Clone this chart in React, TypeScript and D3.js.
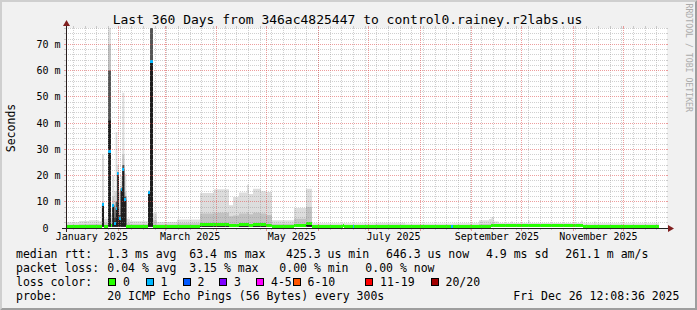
import React from 'react';
import * as d3 from 'd3';

// ---------------- data ----------------
const periodStart = [
  '2024-12-31T12:00', '2025-01-08T07:00', '2025-01-14T07:00', '2025-01-20T07:00', '2025-01-22T02:00',
  '2025-01-23T07:00', '2025-01-25T17:00', '2025-01-27T12:00', '2025-01-28T07:00', '2025-01-29T12:00',
  '2025-01-30T07:00', '2025-01-31T07:00', '2025-02-01T07:00', '2025-02-02T07:00', '2025-02-03T07:00',
  '2025-02-04T12:00', '2025-02-05T17:00', '2025-02-07T22:00', '2025-02-18T17:00', '2025-02-19T22:00',
  '2025-02-21T17:00', '2025-02-24T02:00', '2025-03-08T02:00', '2025-03-21T22:00', '2025-03-30T07:00',
  '2025-04-08T07:00', '2025-04-10T17:00', '2025-04-14T07:00', '2025-04-19T02:00', '2025-04-20T07:00',
  '2025-04-22T17:00', '2025-04-27T12:00', '2025-04-30T12:00', '2025-05-04T02:00', '2025-05-17T07:00',
  '2025-05-24T12:00', '2025-05-28T02:00', '2025-06-15T10:00', '2025-06-16T07:00', '2025-06-21T10:00',
  '2025-06-22T07:00', '2025-07-05T00:00', '2025-07-23T00:00', '2025-08-19T12:00', '2025-08-20T17:00',
  '2025-09-05T07:00', '2025-09-11T07:00', '2025-09-12T19:00', '2025-09-14T07:00', '2025-09-17T00:00',
  '2025-09-24T12:00', '2025-09-25T12:00', '2025-10-04T17:00', '2025-10-05T17:00', '2025-11-05T12:00',
  '2025-11-06T12:00', '2025-11-13T07:00', '2025-11-14T07:00',
];
const dataEnd = '2025-12-22T07:00';

// median rtt (ms)
const medianMs = [
  0.7, 0.7, 0.7, 0.7, 9.0,
  0.75, 29.3, 0.9, 8.5, 1.8,
  7.4, 20.7, 3.6, 14.6, 22.4,
  10.8, 0.7, 0.7, 13.4, 63.4,
  0.7, 0.7, 0.75, 1.2, 1.2,
  1.0, 1.1, 1.2, 1.2, 1.1,
  1.2, 1.2, 1.1, 0.7, 0.8,
  1.7, 0.65, 1.0, 0.65, 0.65,
  0.65, 0.65, 0.65, 0.65, 0.65,
  0.7, 0.7, 0.8, 0.85, 0.85,
  0.9, 0.85, 0.9, 0.85, 0.8,
  0.7, 0.7, 0.7,
];
// lost pings out of 20
const lossCount = [
  0, 0, 0, 0, 1,
  0, 1, 0, 1, 1,
  1, 1, 1, 1, 1,
  1, 0, 0, 1, 1,
  0, 0, 0, 0, 0,
  0, 0, 0, 0, 0,
  0, 0, 0, 0, 0,
  0, 0, 0, 0, 1,
  0, 0, 0, 1, 0,
  0, 0, 0, 0, 0,
  0, 0, 0, 0, 0,
  0, 0, 0,
];
// smoke: fastest ping, slowest ping and inner quantile tops (ms)
const smokeMinMs = [
  0.45, 0.45, 0.45, 0.45, 0.5,
  0.45, 0.5, 0.45, 0.5, 0.5,
  0.5, 0.5, 0.5, 0.5, 0.5,
  0.5, 0.45, 0.45, 0.5, 0.5,
  0.45, 0.45, 0.45, 0.45, 0.45,
  0.45, 0.45, 0.45, 0.45, 0.45,
  0.45, 0.45, 0.45, 0.45, 0.45,
  0.45, 0.45, 0.45, 0.45, 0.45,
  0.45, 0.45, 0.45, 0.45, 0.45,
  0.45, 0.45, 0.45, 0.45, 0.45,
  0.45, 0.45, 0.45, 0.45, 0.45,
  0.45, 0.45, 0.45,
];
const smokeMaxMs = [
  2.2, 2.7, 3.0, 2.6, 28,
  3.5, 85, 5.0, 20, 14,
  36.6, 24, 14, 20, 51.5,
  20.7, 3.5, 2.6, 14.5, 85,
  5.6, 2.3, 3.2, 13.3, 14.8,
  8.7, 11.8, 13.5, 16.5, 13.0,
  15.0, 14.0, 13.7, 3.0, 7.6,
  15.0, 1.8, 1.9, 1.8, 1.8,
  1.8, 2.0, 1.7, 1.7, 1.8,
  3.0, 3.4, 4.2, 2.5, 1.9,
  2.5, 1.9, 2.9, 1.9, 2.9,
  1.8, 2.5, 1.8,
];
const smokeUpperMs = [
  1.2, 1.4, 1.5, 1.4, 10,
  2.0, 70, 3.0, 12, 6,
  14, 21.5, 8, 16, 28,
  14, 1.8, 1.4, 13.8, 84,
  3.0, 1.3, 1.8, 5.5, 5.8,
  4.5, 4.8, 5.5, 6.0, 5.2,
  5.8, 5.5, 5.0, 1.6, 3.5,
  8.0, 1.1, 1.3, 1.1, 1.1,
  1.1, 1.2, 1.1, 1.1, 1.1,
  1.5, 1.6, 1.8, 1.3, 1.2,
  1.4, 1.2, 1.5, 1.2, 1.5,
  1.1, 1.3, 1.1,
];
const smokeInnerMs = [
  0.75, 0.75, 0.8, 0.8, 9.2,
  1.0, 60, 1.2, 9, 4,
  10, 21, 5, 15, 24,
  12, 0.8, 0.8, 13.6, 80,
  0.8, 0.8, 0.85, 1.3, 1.3,
  1.1, 1.2, 1.3, 1.3, 1.2,
  1.3, 1.3, 1.2, 0.8, 0.9,
  1.8, 0.7, 1.05, 0.7, 0.7,
  0.7, 0.7, 0.7, 0.7, 0.7,
  0.75, 0.75, 0.85, 0.9, 0.9,
  0.95, 0.9, 0.95, 0.9, 0.85,
  0.75, 0.75, 0.75,
];
const smokeCoreMs = [
  0.7, 0.7, 0.7, 0.7, 9.0,
  0.8, 41, 1.0, 8.5, 2.5,
  7.5, 20.7, 3.8, 14.6, 22.4,
  10.8, 0.7, 0.7, 13.4, 63.4,
  0.7, 0.7, 0.75, 1.2, 1.2,
  1.0, 1.1, 1.2, 1.2, 1.1,
  1.2, 1.2, 1.1, 0.7, 0.8,
  1.7, 0.65, 1.0, 0.65, 0.65,
  0.65, 0.65, 0.65, 0.65, 0.65,
  0.7, 0.7, 0.8, 0.85, 0.85,
  0.9, 0.85, 0.9, 0.85, 0.8,
  0.7, 0.7, 0.7,
];

const yTicks = [0, 10, 20, 30, 40, 50, 60, 70];
const yTickLabels = ['0', '10 m', '20 m', '30 m', '40 m', '50 m', '60 m', '70 m'];
const xLabelMonths = ['2025-01-01T00:00', '2025-03-01T00:00', '2025-05-01T00:00', '2025-07-01T00:00', '2025-09-01T00:00', '2025-11-01T00:00'];
const xLabels = ['January 2025', 'March 2025', 'May 2025', 'July 2025', 'September 2025', 'November 2025'];

const lossLabels = ['0', '1', '2', '3', '4-5', '6-10', '11-19', '20/20'];
const lossColors = ['#26ff00', '#00b8ff', '#0059ff', '#7e00ff', '#ff00ff', '#ff5500', '#ff0000', '#a10000'];
const lossUpper = [0, 1, 2, 3, 5, 10, 19, 20];

const title = 'Last 360 Days from 346ac4825447 to control0.rainey.r2labs.us';
const legendRtt = ['median rtt:', '1.3 ms avg', '63.4 ms max', '425.3 us min', '646.3 us now', '4.9 ms sd', '261.1 m am/s'];
const legendLoss = ['packet loss:', '0.04 % avg', '3.15 % max', '0.00 % min', '0.00 % now'];
const legendProbe = ['probe:', '20 ICMP Echo Pings (56 Bytes) every 300s', 'Fri Dec 26 12:08:36 2025'];

// ---------------- layout ----------------
const W = 697;
const H = 310;
const X0 = 66;
const X1 = 666;
const Y0 = 228;
const Y1 = 28;
const Y_MAX = 76.2;
const START = new Date(2024, 11, 31, 12, 8, 36);
const END = new Date(2025, 11, 26, 12, 8, 36);
const MONO = "'DejaVu Sans Mono', monospace";

const rttX = [16, 107.3, 189.3, 286, 386, 486, 565.3];
const lossX = [16, 107.3, 189.3, 279.3, 365.3];
const probeX = [16, 107.3, 513.3];
const boxX = [108, 145.5, 182.5, 219, 256, 292.5, 365, 430.5];

const smokeColors = ['#dddddd', '#c2c2c2', '#555555', '#1e1e1e'];

function lossIndex(n: number) {
  for (let i = 0; i < lossUpper.length; i++) if (n <= lossUpper[i]) return i;
  return lossUpper.length - 1;
}

export default function App() {
  const x = d3.scaleTime().domain([START, END]).range([X0, X1]);
  const y = d3.scaleLinear().domain([0, Y_MAX]).range([Y0, Y1]);
  const px = (v: number) => Math.floor(v) + 0.5;

  const starts = periodStart.map((s) => new Date(s));
  const edges = [...starts, new Date(dataEnd)];
  const pts = edges.map((t, k) => ({ t, i: Math.min(k, starts.length - 1) }));

  const band = (top: number[]) =>
    d3
      .area<{ t: Date; i: number }>()
      .x((d) => x(d.t))
      .y0((d) => y(smokeMinMs[d.i]))
      .y1((d) => y(top[d.i]))
      .curve(d3.curveStepAfter)(pts) || '';

  const bands = [smokeMaxMs, smokeUpperMs, smokeInnerMs, smokeCoreMs];

  const weeks = d3.timeSunday.range(START, END);
  const months = d3.timeMonth.range(START, END);
  const minorY = d3.range(2, Y_MAX, 2).filter((v) => v % 10 !== 0);
  const gridCol = 'rgb(143,143,143)';
  const gridOp = 0.42;
  const mgridCol = 'rgb(222,79,79)';
  const mgridOp = 0.55;

  return (
    <svg
      width={W}
      height={H}
      style={{ position: 'absolute', left: 0, top: 0, display: 'block' }}
      fontFamily={MONO}
    >
      <defs>
        <clipPath id="plot">
          <rect x={X0} y={Y1} width={X1 - X0 + 1} height={Y0 - Y1} />
        </clipPath>
      </defs>
      <rect x={0} y={0} width={W} height={H} fill="#f1f1f1" />
      <polygon points={`0,${H} 2,${H - 2} 2,2 ${W - 2},2 ${W},0 0,0`} fill="#cfcfcf" />
      <polygon points={`2,${H - 2} ${W - 2},${H - 2} ${W - 2},2 ${W},0 ${W},${H} 0,${H}`} fill="#9e9e9e" />
      <rect x={X0} y={Y1} width={X1 - X0 + 1} height={Y0 - Y1} fill="#ffffff" />

      <g clipPath="url(#plot)">
        {bands.map((b, k) => (
          <path key={k} d={band(b)} fill={smokeColors[k]} />
        ))}
        {starts.map((s, i) => {
          const a = x(s);
          const b = x(edges[i + 1]);
          const yc = y(medianMs[i]);
          return (
            <rect
              key={i}
              x={a}
              y={yc - 1.5}
              width={b - a}
              height={3}
              fill={lossColors[lossIndex(lossCount[i])]}
              shapeRendering="crispEdges"
            />
          );
        })}
      </g>

      {/* grid */}
      <g strokeWidth={1} shapeRendering="crispEdges" fill="none">
        {minorY.map((v) => (
          <g key={'hy' + v} stroke={gridCol} strokeOpacity={gridOp}>
            <line x1={X0 - 2} x2={X0} y1={px(y(v))} y2={px(y(v))} />
            <line x1={X1} x2={X1 + 2} y1={px(y(v))} y2={px(y(v))} />
            <line x1={X0} x2={X1} y1={px(y(v))} y2={px(y(v))} strokeDasharray="1 1" />
          </g>
        ))}
        {weeks.map((w) => (
          <g key={'wx' + +w} stroke={gridCol} strokeOpacity={gridOp}>
            <line x1={px(x(w))} x2={px(x(w))} y1={Y1 - 2} y2={Y1} />
            <line x1={px(x(w))} x2={px(x(w))} y1={Y0} y2={Y0 + 2} />
            <line x1={px(x(w))} x2={px(x(w))} y1={Y1} y2={Y0} strokeDasharray="1 1" />
          </g>
        ))}
        {yTicks.slice(1).map((v) => (
          <g key={'my' + v} stroke={mgridCol} strokeOpacity={mgridOp}>
            <line x1={X0 - 2} x2={X0} y1={px(y(v))} y2={px(y(v))} />
            <line x1={X1} x2={X1 + 2} y1={px(y(v))} y2={px(y(v))} />
            <line x1={X0} x2={X1} y1={px(y(v))} y2={px(y(v))} strokeDasharray="1 1" />
          </g>
        ))}
        {months.map((m) => (
          <g key={'mx' + +m} stroke={mgridCol} strokeOpacity={mgridOp}>
            <line x1={px(x(m))} x2={px(x(m))} y1={Y1 - 2} y2={Y1} />
            <line x1={px(x(m))} x2={px(x(m))} y1={Y0} y2={Y0 + 3} />
            <line x1={px(x(m))} x2={px(x(m))} y1={Y1} y2={Y0} strokeDasharray="1 1" />
          </g>
        ))}
      </g>

      {/* axes */}
      <g shapeRendering="crispEdges">
        <line x1={X0 - 4} x2={X1 + 4} y1={Y0 + 0.5} y2={Y0 + 0.5} stroke="#1f1f1f" />
        <line x1={X0 + 0.5} x2={X0 + 0.5} y1={Y0 + 4} y2={Y1 - 4} stroke="#2a1f1f" />
      </g>
      <polygon
        points={`${X1 + 2},${Y0 + 0.5 - 3.5} ${X1 + 2},${Y0 + 0.5 + 3.5} ${X1 + 8},${Y0 + 0.5}`}
        fill="#801f1f"
      />
      <polygon
        points={`${X0 + 0.5 - 3.5},${Y1 - 2} ${X0 + 0.5 + 3.5},${Y1 - 2} ${X0 + 0.5},${Y1 - 8}`}
        fill="#801f1f"
      />

      {/* y labels */}
      {yTicks.map((v, i) => (
        <text
          key={'yl' + v}
          x={60.5}
          y={px(y(v)) + 3.3}
          fontSize={10}
          textAnchor="end"
          fill="#000"
          xmlSpace="preserve"
          style={{ whiteSpace: 'pre' }}
        >
          {v === 0 ? yTickLabels[i] + '  ' : yTickLabels[i]}
        </text>
      ))}

      {/* x labels */}
      {xLabelMonths.map((m, i) => (
        <text
          key={'xl' + i}
          x={x(d3.timeDay.offset(new Date(m), 15))}
          y={240}
          fontSize={10}
          textAnchor="middle"
          fill="#000"
        >
          {xLabels[i]}
        </text>
      ))}

      <text x={347.5} y={23.5} fontSize={13} textAnchor="middle" fill="#000">
        {title}
      </text>
      <text x={15} y={128} fontSize={11.5} textAnchor="middle" transform="rotate(-90 15 128)" fill="#000">
        Seconds
      </text>
      <text
        x={685.5}
        y={3.5}
        fontSize={8.2}
        fill="#ababab"
        transform="rotate(90 685.5 3.5)"
      >
        RRDTOOL / TOBI OETIKER
      </text>

      {/* legend */}
      <g fontSize={11.5} fill="#000">
        {legendRtt.map((t, i) => (
          <text key={'r' + i} x={rttX[i]} y={258}>
            {t}
          </text>
        ))}
        {legendLoss.map((t, i) => (
          <text key={'l' + i} x={lossX[i]} y={272}>
            {t}
          </text>
        ))}
        <text x={16} y={286}>
          loss color:
        </text>
        {lossLabels.map((t, i) => (
          <g key={'c' + i}>
            <rect
              x={boxX[i] + 0.5}
              y={278.5}
              width={7}
              height={7}
              fill={lossColors[i]}
              stroke="#000"
              strokeWidth={1}
              shapeRendering="crispEdges"
            />
            <text x={boxX[i] + 15} y={286}>
              {t}
            </text>
          </g>
        ))}
        {legendProbe.map((t, i) => (
          <text key={'p' + i} x={probeX[i]} y={299.6}>
            {t}
          </text>
        ))}
      </g>
    </svg>
  );
}
